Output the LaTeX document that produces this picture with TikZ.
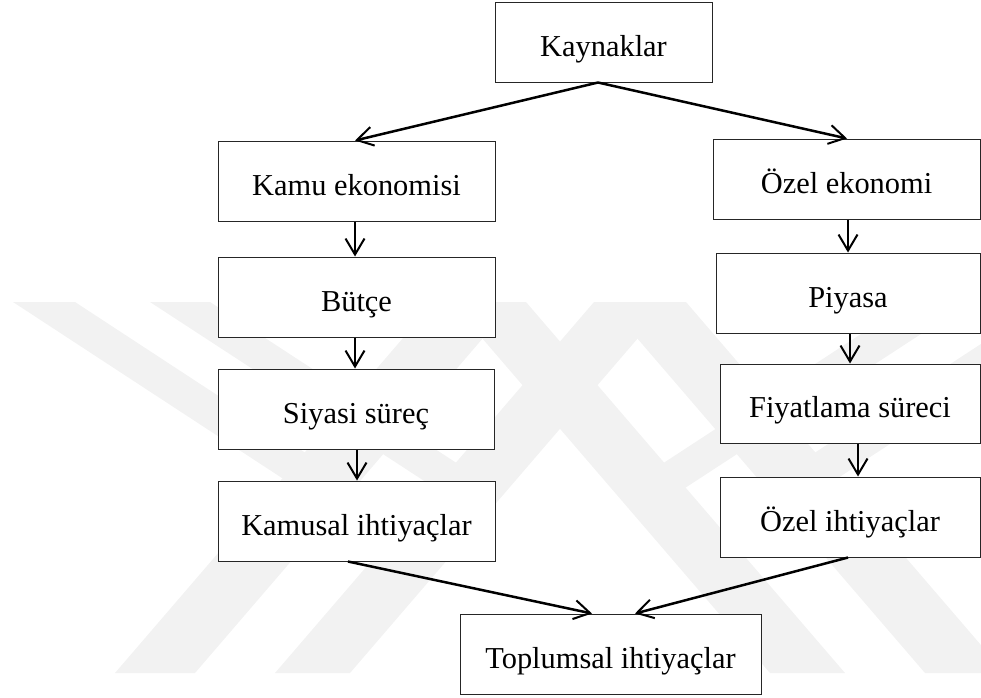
\documentclass[tikz,border=0pt]{standalone}
\usepackage{fontspec}
\setmainfont{Liberation Serif}
\usetikzlibrary{arrows.meta}
\begin{document}
\begin{tikzpicture}[x=1pt,y=-1pt,
  box/.style={draw=black!85, line width=1pt, fill=white, inner sep=0pt,
              minimum height=80pt, text height=30pt, text depth=2pt,
              font=\fontsize{30.4}{36}\selectfont},
  link/.style={line width=2pt, -{Straight Barb[length=16pt,width=19pt,line width=2pt]}},
  slant/.style={link, line width=2.5pt},
  wm/.style={fill=black!5, draw=none}]
\useasboundingbox (0,0) rectangle (981,697);

% faint background emblem
\begin{scope}
\clip (0,302) rectangle (981,673);
\fill[wm] (434,302) -- (514,302) -- (195,673) -- (115,673) -- cycle;
\fill[wm] (594,302) -- (669,302) -- (350,673) -- (275,673) -- cycle;
\fill[wm] (606,302) -- (686,302) -- (1005,673) -- (925,673) -- cycle;
\fill[wm] (451,302) -- (526,302) -- (845,673) -- (770,673) -- cycle;
\fill[wm] (13,302) -- (75,302) -- (356,486) -- (282,478) -- cycle;
\fill[wm] (150,302) -- (210,302) -- (504,494) -- (435,488) -- cycle;
\fill[wm] (1107,302) -- (1045,302) -- (764,486) -- (838,478) -- cycle;
\fill[wm] (970,302) -- (910,302) -- (616,494) -- (685,488) -- cycle;
\end{scope}

% boxes
\node[box, minimum width=217pt] (kay) at (603.5,42) {Kaynaklar};

\node[box, minimum width=277pt] (kamu)    at (356.5,181) {Kamu ekonomisi};
\node[box, minimum width=277pt] (butce)   at (356.5,297) {Bütçe};
\node[box, minimum width=276pt] (siyasi)  at (356,409)   {Siyasi süreç};
\node[box, minimum width=277pt] (kamusal) at (356.5,521) {Kamusal ihtiyaçlar};

\node[box, minimum width=267pt] (ozel)   at (846.5,179) {Özel ekonomi};
\node[box, minimum width=264pt] (piyasa) at (848,293)   {Piyasa};
\node[box, minimum width=260pt, minimum height=79pt] (fiyat) at (850,403.5) {Fiyatlama süreci};
\node[box, minimum width=260pt] (ozelih) at (850,517)   {Özel ihtiyaçlar};

\node[box, minimum width=301pt] (toplum) at (610.5,654) {Toplumsal ihtiyaçlar};

% connectors
\draw[slant] ([xshift=-5.5pt]kay.south) -- ([xshift=-1.5pt]kamu.north);
\draw[slant] ([xshift=-5.5pt]kay.south) -- ([xshift=0.5pt]ozel.north);

\draw[link] ([xshift=-1.5pt]kamu.south)  -- ([xshift=-1.5pt]butce.north);
\draw[link] ([xshift=-1.5pt]butce.south) -- ([xshift=-1pt]siyasi.north);
\draw[link] ([xshift=1pt]siyasi.south)   -- ([xshift=0.5pt]kamusal.north);

\draw[link] ([xshift=1.5pt]ozel.south)   -- (piyasa.north);
\draw[link] ([xshift=2pt]piyasa.south)   -- (fiyat.north);
\draw[link] ([xshift=8pt]fiyat.south)    -- ([xshift=8pt]ozelih.north);

\draw[slant] ([xshift=-8.5pt]kamusal.south) -- ([xshift=-18.5pt]toplum.north);
\draw[slant] ([xshift=-2pt]ozelih.south)    -- ([xshift=24.5pt]toplum.north);
\end{tikzpicture}
\end{document}
